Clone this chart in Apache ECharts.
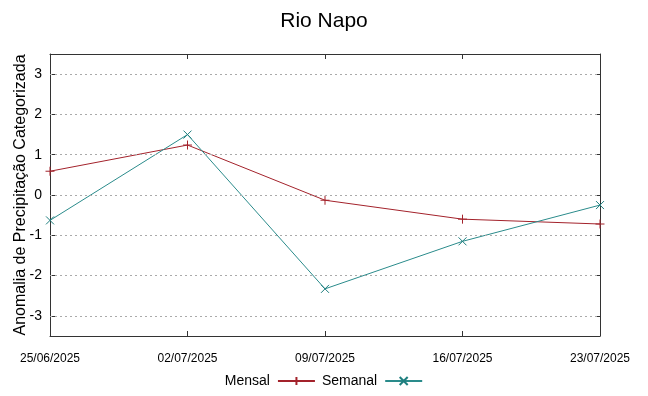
<!DOCTYPE html>
<html>
  <head>
    <meta charset="utf-8" />
    <script src="https://cdn.jsdelivr.net/npm/echarts@6/dist/echarts.min.js"></script>
    <title>Rio Napo</title>
    <style type="text/css">
      html, body { margin: 0; padding: 0; background: #fff; }
      #chart { width: 648px; height: 396px; }
    </style>
  </head>
  <body>
    <div id="chart"></div>
    <script type="text/javascript">
      // datas semanais
      const dates = ['25/06/2025', '02/07/2025', '09/07/2025', '16/07/2025', '23/07/2025']
      const mensal = [0.59, 1.24, -0.13, -0.6, -0.72]
      const semanal = [-0.63, 1.5, -2.33, -1.15, -0.25]
      const yTicks = [-3, -2, -1, 0, 1, 2, 3]

      const frameColor = '#333'
      const font = 'Liberation Sans, Arimo, sans-serif'

      const plus = 'path://M0,5L10,5M5,0L5,10'
      const cross = 'path://M0,0L10,10M0,10L10,0'

      var chart = echarts.init(document.getElementById('chart'))
      var option = {
        animation: false,
        title: {
          text: 'Rio Napo',
          left: 'center',
          top: 6,
          textStyle: { fontFamily: font, fontSize: 21, fontWeight: 'normal', color: '#000' }
        },
        legend: {
          bottom: 3,
          left: 'center',
          align: 'right',
          itemWidth: 37,
          itemHeight: 10,
          itemGap: 6,
          textStyle: { fontFamily: font, fontSize: 14, color: '#000', padding: [0, 3, 0, 0] },
          data: ['Mensal', 'Semanal']
        },
        grid: { left: 50, right: 48, top: 54, bottom: 60, outerBoundsMode: 'none' },
        xAxis: [
          {
            type: 'category',
            data: dates,
            boundaryGap: false,
            axisLine: { onZero: false, lineStyle: { color: frameColor, width: 1 } },
            axisTick: { inside: true, length: 5, lineStyle: { color: frameColor } },
            axisLabel: { fontFamily: font, fontSize: 12, color: '#000', margin: 17, interval: 0 },
            splitLine: { show: false }
          },
          {
            type: 'category',
            data: dates,
            position: 'top',
            boundaryGap: false,
            axisLine: { onZero: false, lineStyle: { color: frameColor, width: 1 } },
            axisTick: { inside: true, length: 5, lineStyle: { color: frameColor } },
            axisLabel: { show: false },
            splitLine: { show: false }
          }
        ],
        yAxis: [
          {
            type: 'value',
            min: -3.5,
            max: 3.5,
            name: 'Anomalia de Precipitação Categorizada',
            nameLocation: 'middle',
            nameGap: 21,
            nameMoveOverlap: false,
            nameTextStyle: { fontFamily: font, fontSize: 16, color: '#000' },
            axisLine: { show: true, onZero: false, lineStyle: { color: frameColor, width: 1 } },
            axisTick: { show: true, inside: true, length: 5, customValues: yTicks, lineStyle: { color: frameColor } },
            axisLabel: { fontFamily: font, fontSize: 14, color: '#000', margin: 8, customValues: yTicks },
            splitLine: { show: false }
          },
          {
            type: 'value',
            min: -3.5,
            max: 3.5,
            position: 'right',
            axisLine: { show: true, onZero: false, lineStyle: { color: frameColor, width: 1 } },
            axisTick: { show: true, inside: true, length: 5, customValues: yTicks, lineStyle: { color: frameColor } },
            axisLabel: { show: false },
            splitLine: { show: false }
          }
        ],
        series: [
          {
            name: 'Mensal',
            type: 'line',
            data: mensal,
            symbol: plus,
            symbolSize: 9,
            color: '#a3222b',
            lineStyle: { width: 1, color: '#a3222b' },
            itemStyle: { color: 'none', borderColor: '#a3222b', borderWidth: 1 },
            markLine: {
              silent: true,
              symbol: 'none',
              label: { show: false },
              lineStyle: { color: '#aaa', type: [2, 3], width: 1 },
              data: yTicks.map(function (v) { return { yAxis: v } })
            },
            z: 3
          },
          {
            name: 'Semanal',
            type: 'line',
            data: semanal,
            symbol: cross,
            symbolSize: 8,
            color: '#1f8585',
            lineStyle: { width: 1, color: '#2a8b8b' },
            itemStyle: { color: 'none', borderColor: '#1f7f7f', borderWidth: 1 },
            z: 4
          }
        ]
      }
      chart.setOption(option)
    </script>
  </body>
</html>
